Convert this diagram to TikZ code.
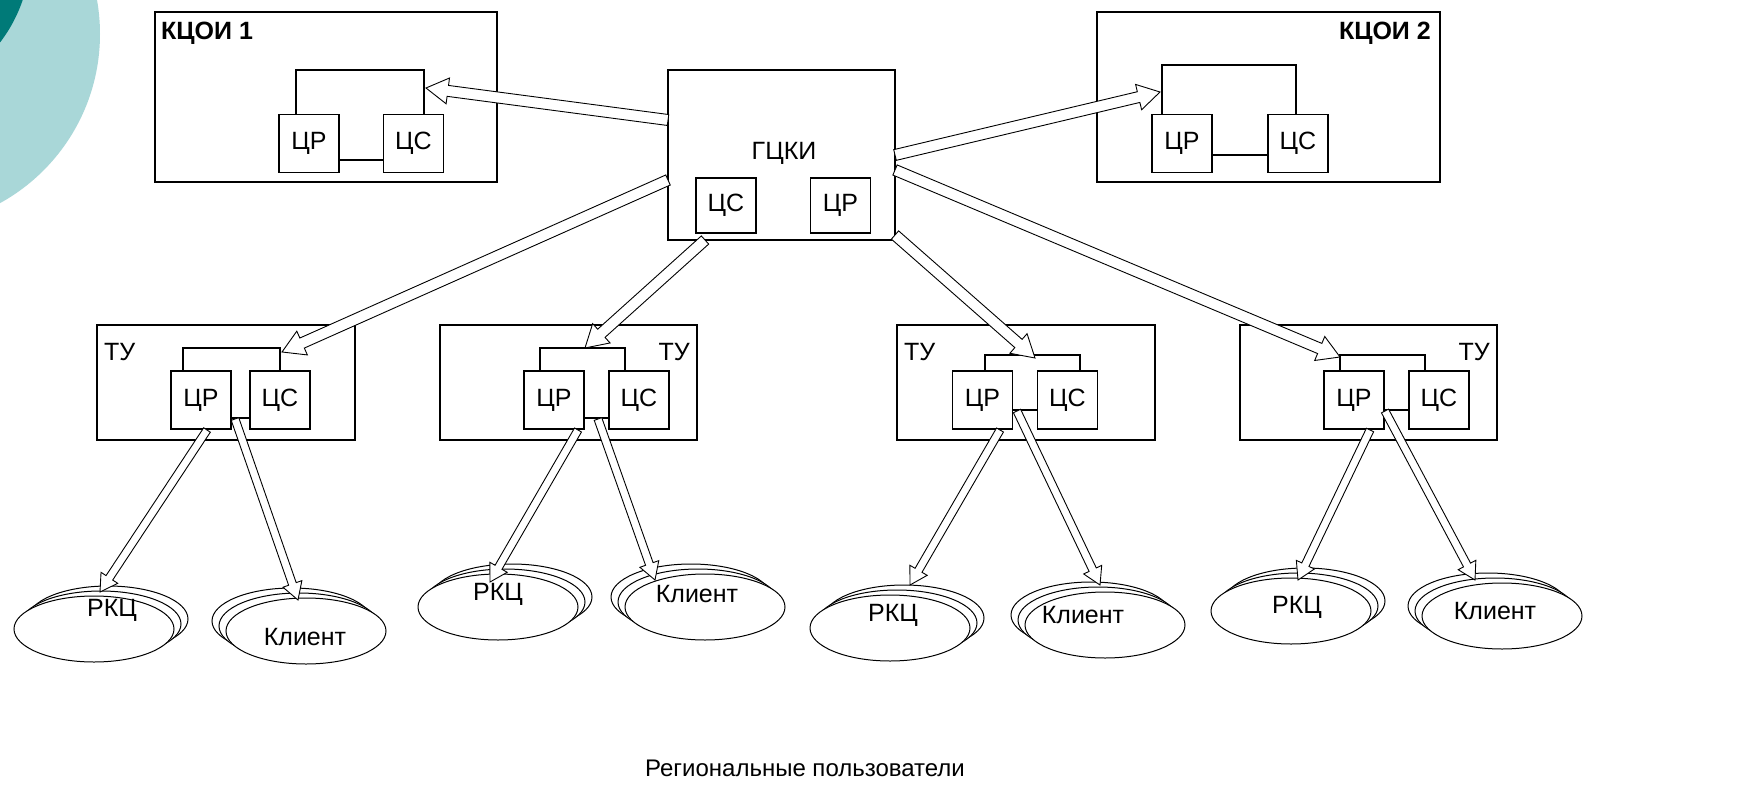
\documentclass[tikz,border=0pt]{standalone}
\usepackage{fontspec}
\setmainfont{Liberation Sans}
\usetikzlibrary{calc,shapes.geometric}
\definecolor{tealL}{HTML}{A9D7D8}
\definecolor{tealD}{HTML}{007A78}
\tikzset{
  frame/.style={draw, line width=1.4pt, fill=white, inner sep=0pt},
  unit/.style={draw, line width=1.2pt, fill=white, inner sep=0pt, minimum width=60pt, minimum height=58pt, font=\fontsize{25}{30}\selectfont},
  wire/.style={line width=1.2pt},
  hollow/.style={draw, line width=0.9pt, fill=white, line join=miter},
  oval/.style={ellipse, draw, line width=1pt, fill=white, inner sep=0pt, minimum width=160pt, minimum height=66pt},
  lbl/.style={font=\fontsize{25}{30}\selectfont, inner sep=0pt},
  title/.style={font=\fontsize{25}{30}\selectfont\bfseries, inner sep=0pt}
}
\newcommand\harrow[5]{%
  \coordinate (hc) at ($(#2)!#5!(#1)$);
  \path[hollow] ($(#1)!#3!90:(#2)$) -- ($(hc)!#3!-90:(#1)$) -- ($(hc)!#4!-90:(#1)$) -- (#2) -- ($(hc)!#4!90:(#1)$) -- ($(hc)!#3!90:(#1)$) -- ($(#1)!#3!-90:(#2)$) -- cycle;
}
\newcommand\ovalstack[5]{%
  \node[oval] (#1c) at ({#2+2*(#4)},{#3+2*(#5)}) {};
  \node[oval] (#1b) at ({#2+#4},{#3+#5}) {};
  \node[oval] (#1a) at (#2,#3) {};
}
\begin{document}
\begin{tikzpicture}[x=1pt,y=-1pt]
\useasboundingbox (0,0) rectangle (1751,795);
\clip (0,0) rectangle (1751,795);
\fill[white] (0,0) rectangle (1751,795);
% decoration
\fill[tealL] (-93,34) circle[radius=193pt];
\fill[tealD] (-117.5,-47.5) circle[radius=148pt];

% KCOI 1
\node[frame, minimum width=342pt, minimum height=170pt] (kcoi1) at (326,97) {};
\node[title, anchor=west] (kcoi1t) at (161,33) {КЦОИ 1};
\node[unit] (k1cr) at (309,143.5) {ЦР};
\node[unit] (k1cs) at (413.5,143.5) {ЦС};
\coordinate (k1l) at (296,70); \coordinate (k1r) at (424,70); \coordinate (k1lk) at (0,160);
\draw[wire] (k1cr.north -| k1l) -- (k1l) -- (k1r) -- (k1cs.north -| k1r);
\draw[wire] (k1cr.east |- k1lk) -- (k1cs.west |- k1lk);

% KCOI 2
\node[frame, minimum width=343pt, minimum height=170pt] (kcoi2) at (1268.5,97) {};
\node[title, anchor=east] (kcoi2t) at (1431,33) {КЦОИ 2};
\node[unit] (k2cr) at (1182,143.5) {ЦР};
\node[unit] (k2cs) at (1298,143.5) {ЦС};
\coordinate (k2l) at (1162,65); \coordinate (k2r) at (1296,65); \coordinate (k2lk) at (0,155);
\draw[wire] (k2cr.north -| k2l) -- (k2l) -- (k2r) -- (k2cs.north -| k2r);
\draw[wire] (k2cr.east |- k2lk) -- (k2cs.west |- k2lk);

% GCKI
\node[frame, minimum width=227pt, minimum height=170pt] (gcki) at (781.5,155) {};
\node[lbl] (gckit) at (784,153) {ГЦКИ};
\node[unit, minimum height=55pt] (gcs) at (726,205.5) {ЦС};
\node[unit, minimum height=55pt] (gcr) at (840.5,205.5) {ЦР};

% TU boxes
\node[frame, minimum width=258pt, minimum height=115pt] (tu1) at (226,382.5) {};
\node[lbl, anchor=west] (tu1t) at (104,352) {ТУ};
\node[unit] (t1cr) at (201,400) {ЦР};
\node[unit] (t1cs) at (280,400) {ЦС};
\coordinate (t1l) at (183,348); \coordinate (t1r) at (280,348); \coordinate (t1lk) at (0,418);
\draw[wire] (t1cr.north -| t1l) -- (t1l) -- (t1r) -- (t1cs.north -| t1r);
\draw[wire] (t1cr.east |- t1lk) -- (t1cs.west |- t1lk);

\node[frame, minimum width=257pt, minimum height=115pt] (tu2) at (568.5,382.5) {};
\node[lbl, anchor=east] (tu2t) at (690,352) {ТУ};
\node[unit] (t2cr) at (554,400) {ЦР};
\node[unit] (t2cs) at (639,400) {ЦС};
\coordinate (t2l) at (540,348); \coordinate (t2r) at (625,348); \coordinate (t2lk) at (0,418);
\draw[wire] (t2cr.north -| t2l) -- (t2l) -- (t2r) -- (t2cs.north -| t2r);
\draw[wire] (t2cr.east |- t2lk) -- (t2cs.west |- t2lk);

\node[frame, minimum width=258pt, minimum height=115pt] (tu3) at (1026,382.5) {};
\node[lbl, anchor=west] (tu3t) at (904,352) {ТУ};
\node[unit] (t3cr) at (982.5,400) {ЦР};
\node[unit] (t3cs) at (1067.5,400) {ЦС};
\coordinate (t3l) at (985,355); \coordinate (t3r) at (1080,355); \coordinate (t3lk) at (0,410);
\draw[wire] (t3cr.north -| t3l) -- (t3l) -- (t3r) -- (t3cs.north -| t3r);
\draw[wire] (t3cr.east |- t3lk) -- (t3cs.west |- t3lk);

\node[frame, minimum width=257pt, minimum height=115pt] (tu4) at (1368.5,382.5) {};
\node[lbl, anchor=east] (tu4t) at (1490,352) {ТУ};
\node[unit] (t4cr) at (1354,400) {ЦР};
\node[unit] (t4cs) at (1439,400) {ЦС};
\coordinate (t4l) at (1340,355); \coordinate (t4r) at (1425,355); \coordinate (t4lk) at (0,410);
\draw[wire] (t4cr.north -| t4l) -- (t4l) -- (t4r) -- (t4cs.north -| t4r);
\draw[wire] (t4cr.east |- t4lk) -- (t4cs.west |- t4lk);

% ellipse stacks
\ovalstack{ga}{94}{629}{7}{-5}
\ovalstack{gb}{306}{631}{-7}{-5}
\ovalstack{gc}{498}{607}{7}{-5}
\ovalstack{gd}{705}{607}{-7}{-5}
\ovalstack{ge}{890}{628}{7}{-5}
\ovalstack{gf}{1105}{625}{-7}{-5}
\ovalstack{gg}{1291}{611}{7}{-5}
\ovalstack{gh}{1502}{616}{-7}{-5}
\node[lbl] (gat) at (112,610) {РКЦ};
\node[lbl] (gbt) at (305,637) {Клиент};
\node[lbl] (gct) at (498,594) {РКЦ};
\node[lbl] (gdt) at (697,594) {Клиент};
\node[lbl] (get) at (893,615) {РКЦ};
\node[lbl] (gft) at (1083,615) {Клиент};
\node[lbl] (ggt) at (1297,607) {РКЦ};
\node[lbl] (ght) at (1495,611) {Клиент};

% top arrows
\coordinate (s1) at (668,120); \coordinate (e1) at (426,88);
\coordinate (s2) at (895,155); \coordinate (e2) at (1160,92);
\coordinate (s3) at (668,180); \coordinate (e3) at (282,352);
\coordinate (s4) at (705,240); \coordinate (e4) at (585,348);
\coordinate (s5) at (895,235); \coordinate (e5) at (1035,358);
\coordinate (s6) at (895,170); \coordinate (e6) at (1340,357);
\harrow{s1}{e1}{5.5pt}{13pt}{22pt}
\harrow{s2}{e2}{5.5pt}{13pt}{22pt}
\harrow{s3}{e3}{5.5pt}{13pt}{22pt}
\harrow{s4}{e4}{5.5pt}{13pt}{22pt}
\harrow{s5}{e5}{5.5pt}{13pt}{22pt}
\harrow{s6}{e6}{5.5pt}{13pt}{22pt}

% bottom arrows
\coordinate (b1s) at (207,430); \coordinate (b1e) at (100,592);
\coordinate (b2s) at (235,419); \coordinate (b2e) at (298,600);
\coordinate (b3s) at (578,430); \coordinate (b3e) at (490,582);
\coordinate (b4s) at (598,419); \coordinate (b4e) at (655,580);
\coordinate (b5s) at (1000,430); \coordinate (b5e) at (910,585);
\coordinate (b6s) at (1017,411); \coordinate (b6e) at (1100,585);
\coordinate (b7s) at (1370,430); \coordinate (b7e) at (1298,580);
\coordinate (b8s) at (1385,411); \coordinate (b8e) at (1475,580);
\harrow{b1s}{b1e}{4pt}{10pt}{17pt}
\harrow{b2s}{b2e}{4pt}{10pt}{17pt}
\harrow{b3s}{b3e}{4pt}{10pt}{17pt}
\harrow{b4s}{b4e}{4pt}{10pt}{17pt}
\harrow{b5s}{b5e}{4pt}{10pt}{17pt}
\harrow{b6s}{b6e}{4pt}{10pt}{17pt}
\harrow{b7s}{b7e}{4pt}{10pt}{17pt}
\harrow{b8s}{b8e}{4pt}{10pt}{17pt}

\node[lbl, font=\fontsize{24}{29}\selectfont] (reg) at (805,768) {Региональные пользователи};
\end{tikzpicture}
\end{document}
